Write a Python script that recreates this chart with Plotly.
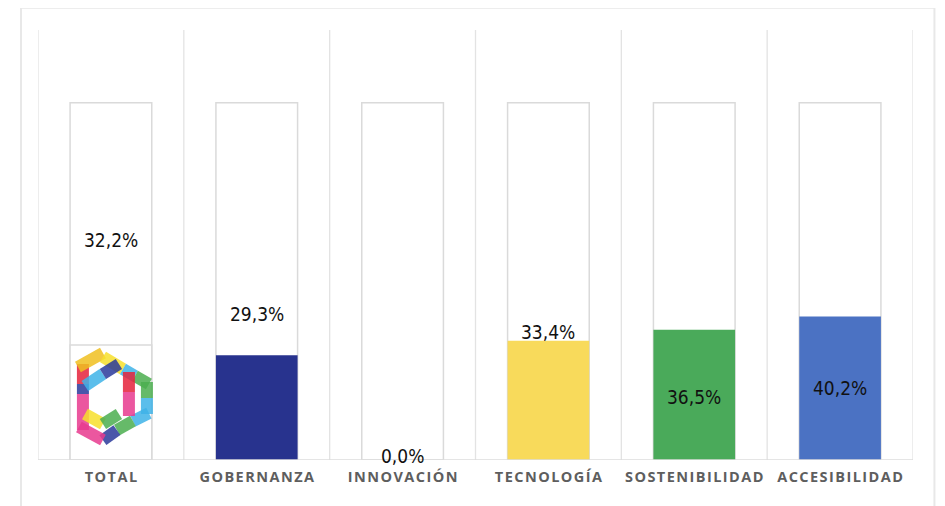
import plotly.graph_objects as go

categories = ["TOTAL", "GOBERNANZA", "INNOVACIÓN", "TECNOLOGÍA", "SOSTENIBILIDAD", "ACCESIBILIDAD"]
values = [32.2, 29.3, 0.0, 33.4, 36.5, 40.2]
value_labels = ["32,2%", "29,3%", "0,0%", "33,4%", "36,5%", "40,2%"]
full_scale = [100, 100, 100, 100, 100, 100]
bar_colors = ["#ffffff", "#28338e", "#ffffff", "#f8da5b", "#4aaa5a", "#4b72c3"]
label_shift_px = [105, 41, 4, 9, -67, -72]

x_idx = list(range(len(categories)))
BAR_W = 0.56
GRID = "#e3e3e3"

def spaced(s):
    return "\u200a".join(list(s))

fig = go.Figure()
fig.add_trace(go.Bar(x=x_idx, y=full_scale, width=BAR_W, marker=dict(color="white", line=dict(color="#dadada", width=1.5)),
                     hoverinfo="skip", showlegend=False))
fig.add_trace(go.Bar(x=x_idx, y=values, width=BAR_W,
                     marker=dict(color=bar_colors, line=dict(color=["#dadada"] + ["rgba(0,0,0,0)"] * 5, width=1.5)),
                     showlegend=False))

for i, (v, t, s) in enumerate(zip(values, value_labels, label_shift_px)):
    fig.add_annotation(x=i, y=v, text=t, showarrow=False, yshift=s,
                       font=dict(family="DejaVu Sans Condensed, sans-serif", size=19, color="#111111"))

shapes = []
for b in range(len(categories) + 1):
    shapes.append(dict(type="line", xref="x", yref="paper", x0=b - 0.5, x1=b - 0.5, y0=0, y1=1,
                       line=dict(color=GRID, width=1.3), layer="below"))
shapes.append(dict(type="line", xref="paper", yref="y", x0=0, x1=1, y0=0, y1=0, line=dict(color="#dcdcdc", width=1.3)))
shapes.append(dict(type="rect", xref="paper", yref="paper", x0=-0.0194, x1=1.0245, y0=-0.2, y1=1.052,
                   line=dict(color="#e8e8e8", width=2), layer="below"))

# decorative logo in TOTAL bar
ux = 1 / 145.83
uy = 1 / 3.57
cy = 16.8
def P(dx, dy):
    return (dx * ux, cy + dy * uy)
ribbons = [
    ((-28, 36), (-28, 16), "#e6233b"),
    ((-28, 16), (-28, 6), "#2b3a9c"),
    ((-28, 6), (-28, -30), "#e83a8f"),
    ((-33, 33), (-8, 47), "#f0c020"),
    ((-8, 43), (12, 31), "#f7e02c"),
    ((12, 31), (24, 24), "#3fb3e8"),
    ((24, 24), (38, 16), "#4caf50"),
    ((36, 18), (36, 2), "#4caf50"),
    ((36, 2), (36, -14), "#3fb3e8"),
    ((38, -13), (22, -21), "#3fb3e8"),
    ((22, -21), (6, -30), "#4caf50"),
    ((6, -30), (-8, -40), "#2b3a9c"),
    ((-8, -40), (-32, -27), "#e83a8f"),
    ((18, 28), (18, 8), "#e6233b"),
    ((18, 8), (18, -16), "#e83a8f"),
    ((-26, 14), (-8, 26), "#3fb3e8"),
    ((-8, 26), (8, 36), "#2b3a9c"),
    ((-26, -14), (-8, -24), "#f7e02c"),
    ((-8, -24), (8, -14), "#4caf50"),
]
for (a, b, c) in ribbons:
    x0, y0 = P(*a)
    x1, y1 = P(*b)
    shapes.append(dict(type="line", xref="x", yref="y", x0=x0, y0=y0, x1=x1, y1=y1,
                       line=dict(color=c, width=12), opacity=0.85))

fig.update_layout(
    width=945, height=506,
    margin=dict(l=30, r=40, t=22, b=54),
    paper_bgcolor="white", plot_bgcolor="white",
    barmode="overlay",
    shapes=shapes,
    xaxis=dict(tickmode="array", tickvals=x_idx, ticktext=[spaced(c) for c in categories],
               range=[-0.5, len(categories) - 0.5], showgrid=False, zeroline=False, showline=False,
               ticks="", ticklabelstandoff=6,
               tickfont=dict(family="Open Sans, sans-serif", size=14.5, color="#5e5e5e", weight="bold")),
    yaxis=dict(range=[0, 120.4], visible=False, showgrid=False, zeroline=False),
)

fig.write_html("out.html")
